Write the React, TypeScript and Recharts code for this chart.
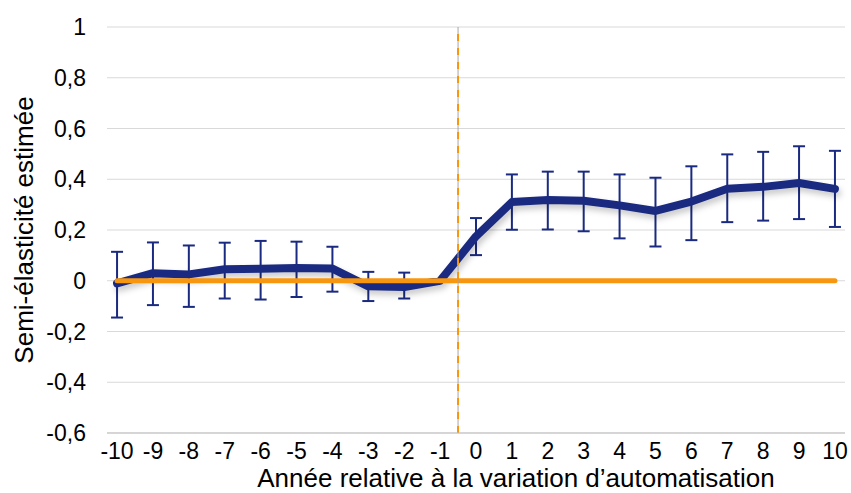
import React from "react";
import {
  ComposedChart,
  Line,
  XAxis,
  YAxis,
  CartesianGrid,
  ErrorBar,
  ReferenceLine,
  Label,
} from "recharts";

const years = [-10, -9, -8, -7, -6, -5, -4, -3, -2, -1, 0, 1, 2, 3, 4, 5, 6, 7, 8, 9, 10];
const estimates = [-0.01, 0.03, 0.025, 0.045, 0.047, 0.05, 0.048, -0.022, -0.025, 0, 0.175, 0.31, 0.318, 0.315, 0.297, 0.275, 0.312, 0.363, 0.37, 0.385, 0.362];
const lowerBounds = [-0.145, -0.096, -0.103, -0.07, -0.074, -0.064, -0.043, -0.08, -0.07, null, 0.101, 0.201, 0.202, 0.195, 0.167, 0.135, 0.16, 0.231, 0.237, 0.243, 0.212];
const upperBounds = [0.114, 0.151, 0.139, 0.15, 0.157, 0.154, 0.134, 0.035, 0.032, null, 0.247, 0.419, 0.43, 0.43, 0.419, 0.406, 0.451, 0.498, 0.508, 0.53, 0.512];
const referenceValues = years.map(() => 0);
const yTicks = [-0.6, -0.4, -0.2, 0, 0.2, 0.4, 0.6, 0.8, 1];
const treatmentBoundary = -0.5;

const NAVY = "#1a2a80";
const ORANGE = "#f7960f";
const FONT = "'Liberation Sans', Arial, sans-serif";

const data = years.map((y, i) => {
  const lo = lowerBounds[i];
  const hi = upperBounds[i];
  return {
    year: y,
    est: estimates[i],
    ref: referenceValues[i],
    err: lo == null || hi == null ? undefined : [estimates[i] - lo, hi - estimates[i]],
  };
});

const fmt = (v: number) => String(v).replace(".", ",");

export default function App() {
  return (
    <div style={{ position: "absolute", left: 0, top: 0, width: 851, height: 493, background: "#fff", fontFamily: FONT }}>
      <style>{`.navy-line .recharts-line-curve { filter: drop-shadow(2px 4px 3px rgba(0,0,0,0.22)); }`}</style>
      <ComposedChart
        width={851}
        height={493}
        data={data}
        margin={{ top: 27, right: 6, bottom: 0, left: 0 }}
      >
        <CartesianGrid vertical={false} stroke="#d9d9d9" strokeWidth={1} />
        <XAxis
          dataKey="year"
          type="number"
          domain={[-10.28, 10.28]}
          ticks={years}
          interval={0}
          tickLine={false}
          tickSize={0}
          tickMargin={10}
          axisLine={{ stroke: "#bfbfbf", strokeWidth: 1 }}
          height={60}
          tick={{ fill: "#000", fontSize: 23, fontFamily: FONT }}
        >
          <Label
            value="Année relative à la variation d’automatisation"
            position="insideBottom"
            offset={6}
            dx={40}
            style={{ fill: "#000", fontSize: 26, fontFamily: FONT }}
          />
        </XAxis>
        <YAxis
          type="number"
          domain={[-0.6, 1]}
          ticks={yTicks}
          interval={0}
          tickFormatter={fmt}
          tickLine={false}
          axisLine={false}
          tickSize={0}
          tickMargin={21}
          width={107}
          tick={{ fill: "#000", fontSize: 23, fontFamily: FONT }}
        >
          <Label
            value="Semi-élasticité estimée"
            angle={-90}
            position="center"
            dx={-30}
            style={{ fill: "#000", fontSize: 26, fontFamily: FONT, textAnchor: "middle" }}
          />
        </YAxis>
        <Line
          className="navy-line"
          dataKey="est"
          stroke={NAVY}
          strokeWidth={8}
          strokeLinecap="round"
          strokeLinejoin="round"
          dot={false}
          activeDot={false}
          isAnimationActive={false}
        >
          <ErrorBar dataKey="err" width={6} stroke={NAVY} strokeWidth={2} direction="y" />
        </Line>
        <Line
          dataKey="ref"
          stroke={ORANGE}
          strokeWidth={5}
          strokeLinecap="round"
          dot={false}
          activeDot={false}
          isAnimationActive={false}
        />
        <ReferenceLine x={treatmentBoundary} stroke="#a6a6a6" strokeWidth={1} />
        <ReferenceLine x={treatmentBoundary} stroke={ORANGE} strokeWidth={2} strokeDasharray="7 7" />
      </ComposedChart>
    </div>
  );
}
